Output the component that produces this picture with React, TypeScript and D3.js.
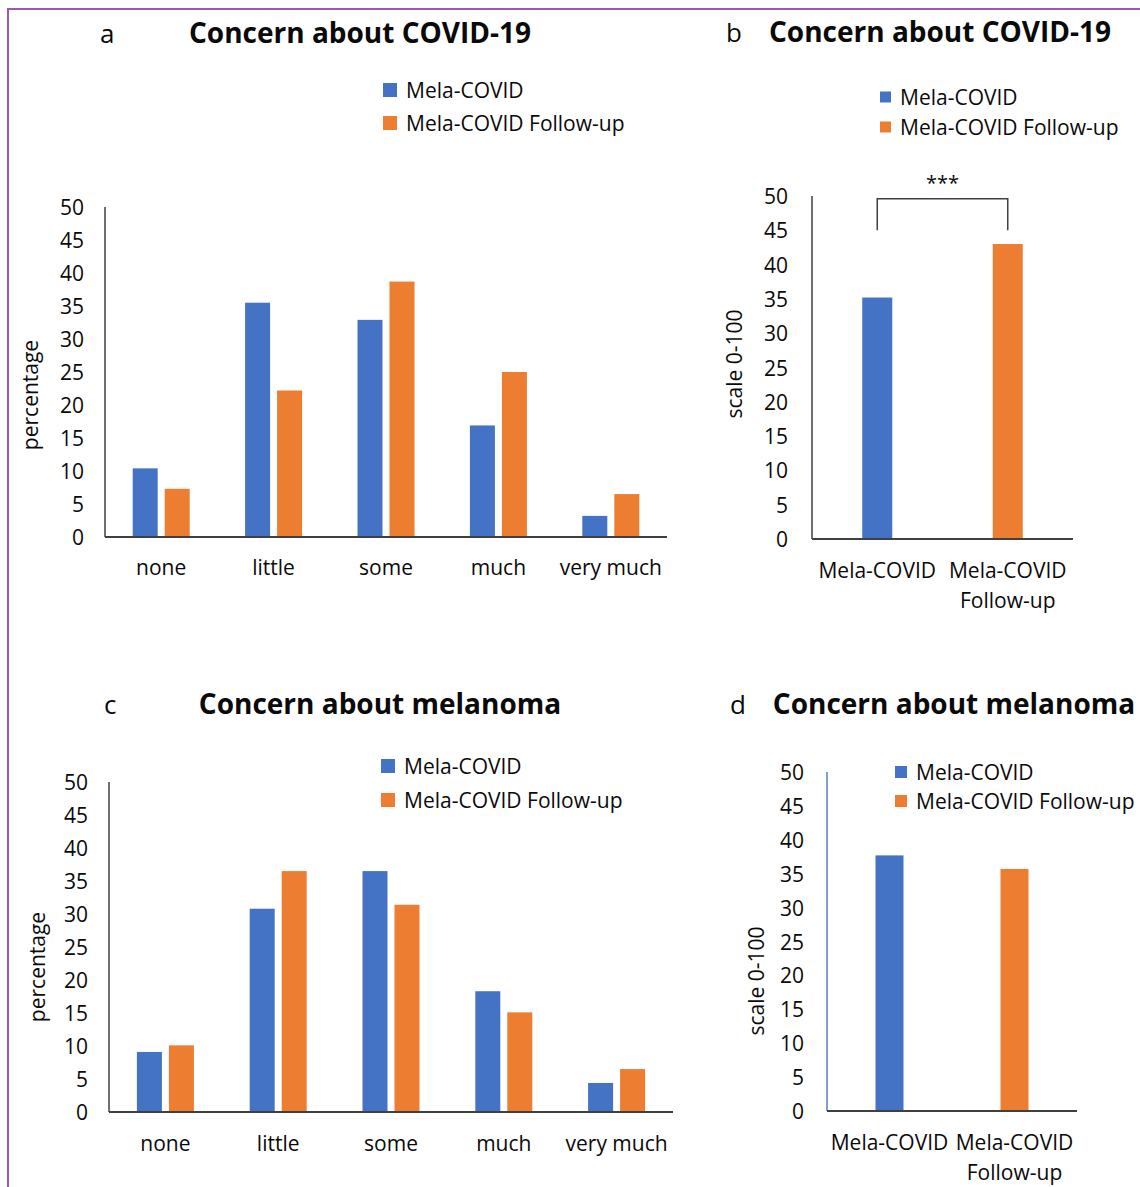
import React from "react";
import * as d3 from "d3";

const categories = ["none", "little", "some", "much", "very much"];
const covidBaseline = [10.4, 35.5, 32.9, 16.9, 3.2];
const covidFollowUp = [7.3, 22.2, 38.7, 25.0, 6.5];
const melanomaBaseline = [9.1, 30.8, 36.5, 18.3, 4.4];
const melanomaFollowUp = [10.1, 36.5, 31.4, 15.1, 6.5];
const seriesNames = ["Mela-COVID", "Mela-COVID Follow-up"];
const groupLabels = [["Mela-COVID"], ["Mela-COVID", "Follow-up"]];
const covidScale = [35.2, 43.0];
const melanomaScale = [37.7, 35.7];
const yTicks = [0, 5, 10, 15, 20, 25, 30, 35, 40, 45, 50];
const colors = ["#4472C4", "#ED7D31"];

const FONT = "'Open Sans', 'Noto Sans', sans-serif";
const AXIS = "#404040";
const TXT = "#0a0a0a";

type Layout = {
  letter: string; letterX: number; title: string; titleX: number; titleY: number;
  legendX: number; legendY: number[]; sq: number;
  x0: number; x1: number; yTop: number; yBase: number;
  tickRight: number; yTitle: string; yTitleX: number; yTitleY: number;
  xLabelY: number; yAxisColor?: string;
};

function Frame({ L, children }: { L: Layout; children: React.ReactNode }) {
  const y = d3.scaleLinear().domain([0, 50]).range([L.yBase, L.yTop]);
  return (
    <g>
      <text x={L.letterX} y={L.titleY} fontSize={26} fontFamily={FONT} fill={TXT}>{L.letter}</text>
      <text x={L.titleX} y={L.titleY} fontSize={28} fontWeight={700} textAnchor="middle" fontFamily={FONT} fill={TXT}>{L.title}</text>
      {seriesNames.map((n, i) => (
        <g key={n}>
          <rect x={L.legendX - L.sq - 9} y={L.legendY[i] - L.sq / 2} width={L.sq} height={L.sq} fill={colors[i]} />
          <text x={L.legendX} y={L.legendY[i]} dominantBaseline="central" fontSize={21} fontFamily={FONT} fill={TXT}>{n}</text>
        </g>
      ))}
      {yTicks.map((t) => (
        <text key={t} x={L.tickRight} y={y(t)} textAnchor="end" dominantBaseline="central" fontSize={21} fontFamily={FONT} fill={TXT}>{t}</text>
      ))}
      <text transform={`translate(${L.yTitleX},${L.yTitleY}) rotate(-90)`} textAnchor="middle" dominantBaseline="central" fontSize={21} fontFamily={FONT} fill={TXT}>{L.yTitle}</text>
      {children}
      <line x1={L.x0} x2={L.x0} y1={L.yTop} y2={L.yBase} stroke={L.yAxisColor || AXIS} strokeWidth={1.5} />
      <line x1={L.x0} x2={L.x1} y1={L.yBase} y2={L.yBase} stroke={AXIS} strokeWidth={1.8} />
    </g>
  );
}

function Grouped({ L, a, b }: { L: Layout; a: number[]; b: number[] }) {
  const x = d3.scaleBand<string>().domain(categories).range([L.x0, L.x1]).padding(0);
  const inner = d3.scaleBand<string>().domain(["0", "1"]).range([0, 57]).paddingInner(7 / 32);
  const y = d3.scaleLinear().domain([0, 50]).range([L.yBase, L.yTop]);
  const series = [a, b];
  return (
    <Frame L={L}>
      {categories.map((c, ci) => (
        <g key={c}>
          {series.map((s, si) => {
            const bx = (x(c) as number) + x.bandwidth() / 2 - 28.5 + (inner(String(si)) as number);
            return <rect key={si} x={bx} y={y(s[ci])} width={inner.bandwidth()} height={y(0) - y(s[ci])} fill={colors[si]} />;
          })}
          <text x={(x(c) as number) + x.bandwidth() / 2} y={L.xLabelY} textAnchor="middle" dominantBaseline="central" fontSize={21} fontFamily={FONT} fill={TXT}>{c}</text>
        </g>
      ))}
    </Frame>
  );
}

function Single({ L, vals, barW, bracket }: { L: Layout; vals: number[]; barW: number; bracket?: boolean }) {
  const keys = ["0", "1"];
  const x = d3.scaleBand<string>().domain(keys).range([L.x0, L.x1]).padding(0);
  const y = d3.scaleLinear().domain([0, 50]).range([L.yBase, L.yTop]);
  const cx = (k: string) => (x(k) as number) + x.bandwidth() / 2;
  return (
    <Frame L={L}>
      {vals.map((v, i) => (
        <rect key={i} x={cx(keys[i]) - barW / 2} y={y(v)} width={barW} height={y(0) - y(v)} fill={colors[i]} />
      ))}
      {groupLabels.map((lines, i) => (
        <text key={i} textAnchor="middle" fontSize={21} fontFamily={FONT} fill={TXT}>
          {lines.map((ln, j) => (
            <tspan key={j} x={cx(keys[i])} y={L.xLabelY + j * 30} dominantBaseline="central">{ln}</tspan>
          ))}
        </text>
      ))}
      {bracket && (
        <g>
          <path d={`M${cx("0")},${y(45)} V${y(49.6)} H${cx("1")} V${y(45)}`} fill="none" stroke={AXIS} strokeWidth={1.5} />
          <text x={(cx("0") + cx("1")) / 2} y={y(49.6) - 9} textAnchor="middle" fontSize={20} fontFamily={FONT} fill={TXT}>***</text>
        </g>
      )}
    </Frame>
  );
}

const LA: Layout = { letter: "a", letterX: 100, title: "Concern about COVID-19", titleX: 360, titleY: 43,
  legendX: 406, legendY: [90, 123], sq: 14, x0: 105, x1: 667, yTop: 207, yBase: 537,
  tickRight: 84, yTitle: "percentage", yTitleX: 30, yTitleY: 395, xLabelY: 567 };
const LB: Layout = { letter: "b", letterX: 726, title: "Concern about COVID-19", titleX: 940, titleY: 42,
  legendX: 900, legendY: [97, 127], sq: 11, x0: 812, x1: 1073, yTop: 196, yBase: 539,
  tickRight: 788, yTitle: "scale 0-100", yTitleX: 734, yTitleY: 364, xLabelY: 570 };
const LC: Layout = { letter: "c", letterX: 104, title: "Concern about melanoma", titleX: 380, titleY: 714,
  legendX: 404, legendY: [766, 800], sq: 14, x0: 109, x1: 673, yTop: 782, yBase: 1112,
  tickRight: 88, yTitle: "percentage", yTitleX: 37, yTitleY: 967, xLabelY: 1143 };
const LD: Layout = { letter: "d", letterX: 730, title: "Concern about melanoma", titleX: 954, titleY: 714,
  legendX: 916, legendY: [772, 801], sq: 12, x0: 827, x1: 1077, yTop: 772, yBase: 1111,
  tickRight: 804, yTitle: "scale 0-100", yTitleX: 756, yTitleY: 981, xLabelY: 1142, yAxisColor: "#5b7bc0" };

export default function App() {
  return (
    <div style={{ position: "absolute", left: 0, top: 0 }}>
      <svg width={1140} height={1187} style={{ display: "block", background: "#fff" }}>
        <rect width={1140} height={1187} fill="#fff" />
        <path d="M8,1187 V9 H1140" fill="none" stroke="#9b59b6" strokeWidth={2} />
        <Grouped L={LA} a={covidBaseline} b={covidFollowUp} />
        <Single L={LB} vals={covidScale} barW={30} bracket />
        <Grouped L={LC} a={melanomaBaseline} b={melanomaFollowUp} />
        <Single L={LD} vals={melanomaScale} barW={28} />
      </svg>
    </div>
  );
}
